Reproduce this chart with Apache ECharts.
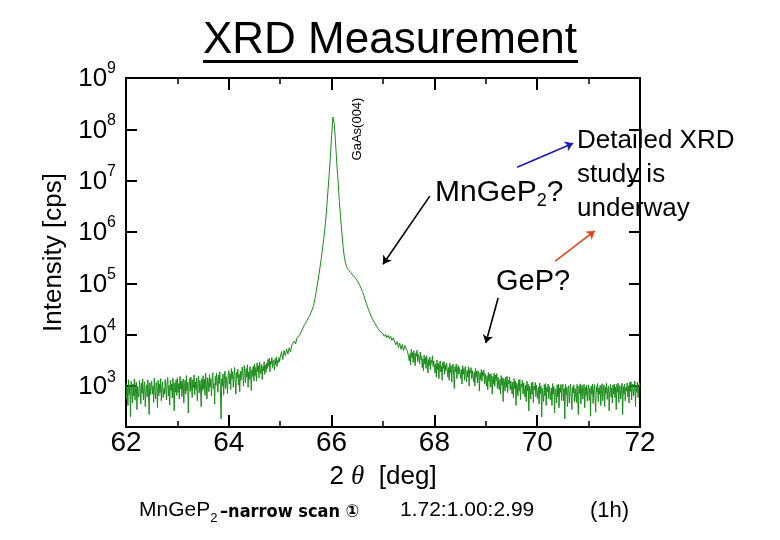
<!DOCTYPE html>
<html><head><meta charset="utf-8">
<script src="https://cdn.jsdelivr.net/npm/echarts@6/dist/echarts.min.js"></script>
<style>html,body{margin:0;padding:0;background:#fff}#c{width:780px;height:540px}</style>
</head><body><div id="c"></div>
<script>
// scan grids of the measurement (2θ in degrees)
const lowStart = 62, peakStart = 65, highStart = 67.5;
const fineStep = 0.0125, coarseStep = 0.025;
// intensity [cps], 62.0000 – 64.9875 (fine step)
const countsLow = [
  1150, 560, 940, 420, 1330, 690, 1020, 250, 1240, 780, 470, 1100, 640, 1380, 530, 900, 1200, 350, 980, 720,
  610, 1280, 870, 450, 1150, 720, 1390, 540, 960, 1210, 400, 830, 1060, 620, 1320, 760, 280, 1170, 680, 1000,
  1250, 700, 1010, 480, 1440, 820, 560, 1180, 930, 380, 1300, 650, 1090, 750, 1400, 520, 980, 1220, 600, 890,
  700, 1350, 880, 540, 1200, 1480, 640, 1030, 430, 1290, 820, 1100, 590, 1420, 950, 330, 1160, 760, 1330, 660,
  1450, 760, 1120, 560, 1550, 880, 1260, 620, 1050, 1380, 470, 980, 1300, 700, 1600, 820, 1180, 300, 1020, 1410,
  790, 1500, 1020, 600, 1340, 930, 1650, 680, 1210, 860, 1450, 520, 1110, 1580, 740, 1290, 960, 400, 1390, 830,
  1600, 870, 1350, 660, 1780, 1040, 560, 1460, 1210, 780, 1690, 950, 1400, 640, 1250, 1830, 900, 1120, 450, 1550,
  1040, 1780, 1260, 760, 1650, 1120, 1900, 820, 230, 1400, 1000, 1720, 680, 1330, 1960, 900, 1530, 1150, 720, 1690,
  2000, 1100, 1750, 860, 2200, 1380, 1900, 950, 1620, 2300, 1200, 700, 1850, 1450, 2150, 1050, 1700, 780, 1950, 1300,
  1400, 2350, 1600, 1000, 2500, 1800, 1150, 2200, 1500, 2600, 950, 1900, 1350, 2400, 1700, 820, 2100, 1550, 2450, 1250,
  2700, 1600, 2300, 1250, 2850, 1900, 2500, 1450, 2950, 2100, 1750, 2650, 1350, 2400, 2000, 3000, 1700, 2550, 1900, 2800,
  2200, 3300, 2500, 3500, 1900, 3050, 2700, 3600, 2300, 3200, 2900, 2050, 3400, 2650, 3700, 2400, 3150, 2850, 3600, 3000
];
// 65.000 – 67.475 (coarse step): GaAs(004) peak and its shoulder
const countsPeak = [
  3600, 4700, 3300, 4900, 3900, 5300, 4200, 5600, 4600, 6300,
  6000, 7600, 6600, 8600, 7900, 9800, 9900, 12300, 13400, 15900,
  17400, 19300, 21400, 24000, 26900, 31600, 37200, 50100, 69200, 97700,
  141000, 209000, 316000, 490000, 776000, 1320000, 2510000, 5620000, 12000000, 28200000,
  75900000, 174000000, 132000000, 60300000, 22400000, 10000000, 4170000, 1910000, 933000, 501000,
  316000, 240000, 204000, 186000, 174000, 162000, 151000, 141000, 132000, 123000,
  112000, 102000, 91200, 79400, 69200, 58900, 49000, 40700, 34700, 29500,
  25700, 22400, 20000, 17800, 16200, 14800, 13200, 12900, 11400, 11300,
  10500, 9300, 10200, 8800, 9700, 8400, 9300, 7800, 8700, 7300,
  6400, 7400, 5600, 6900, 5200, 6500, 4900, 6200, 5300, 4800
];
// 67.5000 – 72.0000 (fine step)
const countsHigh = [
  4800, 3100, 4300, 2600, 5200, 3600, 4500, 2900, 4900, 3400, 2500, 4400, 3800, 5000, 3000, 4100, 3500, 2700, 4600, 3300,
  3800, 2300, 3400, 2000, 4000, 2700, 3600, 2200, 3900, 2900, 1800, 3300, 2500, 3700, 2100, 3200, 2800, 3900, 2400, 3100,
  3000, 1800, 2700, 1500, 3200, 2100, 2800, 1400, 2500, 3100, 1900, 2400, 1300, 2900, 2200, 3000, 1700, 2600, 2000, 2800,
  2600, 1500, 2300, 1300, 2800, 1800, 2500, 1200, 2200, 2700, 1600, 900, 2400, 1900, 2700, 1400, 2100, 2500, 1700, 2300,
  2300, 1400, 2100, 1100, 2500, 1700, 2200, 1300, 2400, 1900, 1200, 2000, 1500, 2400, 1000, 2100, 1800, 2300, 1400, 2000,
  2100, 1200, 1900, 1000, 2200, 1500, 1950, 1150, 2000, 1700, 800, 1800, 1350, 2100, 1250, 1900, 1550, 2050, 1100, 1750,
  1800, 1000, 1600, 850, 1850, 1250, 1700, 950, 1750, 1400, 700, 1550, 1100, 1800, 1000, 1650, 1300, 1750, 900, 1500,
  1550, 850, 1350, 700, 1600, 1050, 1450, 500, 1400, 1150, 800, 1500, 950, 1550, 750, 1300, 1100, 1500, 850, 1250,
  1350, 700, 1200, 600, 1400, 900, 1250, 420, 1150, 1000, 650, 1300, 800, 1350, 550, 1100, 950, 1300, 700, 1150,
  1200, 620, 1050, 500, 1250, 800, 1100, 330, 1000, 900, 560, 1150, 700, 1200, 480, 1000, 850, 1180, 620, 1050,
  1100, 560, 950, 450, 1150, 720, 1000, 250, 900, 830, 500, 1080, 650, 1120, 420, 950, 780, 1100, 560, 980,
  1050, 540, 920, 420, 1120, 700, 980, 300, 880, 800, 470, 1050, 620, 1100, 380, 930, 760, 1080, 520, 960,
  1080, 520, 900, 230, 1100, 680, 960, 400, 860, 1020, 470, 780, 1090, 600, 350, 940, 740, 1060, 500, 900,
  960, 480, 1080, 620, 280, 1000, 720, 1110, 450, 880, 1050, 560, 820, 1090, 380, 940, 660, 1040, 510, 870,
  1060, 530, 900, 260, 1000, 700, 1100, 460, 850, 1070, 580, 310, 980, 760, 1120, 500, 920, 690, 1040, 420,
  900, 1110, 520, 820, 1060, 400, 960, 720, 1130, 550, 880, 1000, 330, 780, 1080, 610, 930, 470, 1050, 700,
  1100, 600, 950, 350, 1080, 760, 1150, 480, 900, 1020, 560, 820, 1130, 280, 980, 700, 1090, 520, 940, 800,
  1150, 620, 1000, 470, 1180, 790, 1220, 540, 950, 1100, 650, 880, 1250, 400, 1040, 760, 1200, 600, 1000, 1150,
  950
];
// axis ranges
const xRange = [62, 72], xStep = 2;
const yRange = [160, 1e9];
// annotation arrows in data coordinates [2θ, cps]
const arrowFrom = [[67.91, 5.0e6], [69.24, 5.2e4], [69.61, 1.83e7], [70.35, 2.72e5]];
const arrowTo   = [[67.0, 2.37e5], [69.0, 6.9e3], [70.70, 5.37e7], [71.12, 1.05e6]];
const arrowColors = ['#000000', '#000000', '#1a1ab8', '#e2441e'];

const FF = "'Liberation Sans', Arial, sans-serif";
const toPairs = (arr, start, step) => arr.map((c, i) => [+(start + i * step).toFixed(4), c]);
const seriesData = toPairs(countsLow, lowStart, fineStep)
  .concat(toPairs(countsPeak, peakStart, coarseStep), toPairs(countsHigh, highStart, fineStep));

const axisLineStyle = {color: '#000', width: 2};
const chart = echarts.init(document.getElementById('c'));
const xBase = {
  type: 'value', min: xRange[0], max: xRange[1], interval: xStep,
  axisLine: {onZero: false, lineStyle: axisLineStyle},
  axisTick: {inside: true, length: 12, lineStyle: {color: '#000', width: 2}},
  minorTick: {show: true, splitNumber: 2, length: 6, lineStyle: {color: '#000', width: 1.5}},
  splitLine: {show: false}, minorSplitLine: {show: false}
};
const yBase = {
  type: 'log', logBase: 10, min: yRange[0], max: yRange[1],
  axisLine: {onZero: false, lineStyle: axisLineStyle},
  axisTick: {inside: true, length: 11, lineStyle: {color: '#000', width: 2}},
  minorTick: {show: false},
  splitLine: {show: false}
};
const option = {
  animation: false,
  backgroundColor: '#fff',
  grid: {left: 126, right: 140, top: 78, bottom: 113},
  xAxis: [
    Object.assign({}, xBase, {
      position: 'bottom',
      axisLabel: {fontSize: 28, color: '#000', margin: 2, fontFamily: FF},
      name: '{n|2 }{t|θ}{n|  [deg]}', nameLocation: 'middle', nameGap: 36,
      nameTextStyle: {color: '#000', rich: {
        n: {fontSize: 26, fontFamily: FF, color: '#000'},
        t: {fontSize: 27, fontFamily: "'Liberation Serif', serif", fontStyle: 'italic', color: '#000'}
      }}
    }),
    Object.assign({}, xBase, {position: 'top', axisLabel: {show: false}})
  ],
  yAxis: [
    Object.assign({}, yBase, {
      position: 'left',
      axisLabel: {
        margin: 10, color: '#000',
        formatter: function (v) {
          const e = Math.log10(v), r = Math.round(e);
          if (Math.abs(e - r) > 1e-6) return '';
          return '{b|10}{s|' + r + '}';
        },
        rich: {
          b: {fontSize: 26, fontFamily: FF, color: '#000', padding: [2, 0, 0, 0]},
          s: {fontSize: 16, fontFamily: FF, color: '#000', padding: [0, 0, 18, 0]}
        }
      },
      name: 'Intensity [cps]', nameLocation: 'middle', nameGap: 50,
      nameTextStyle: {fontSize: 26, fontFamily: FF, color: '#000'}
    }),
    Object.assign({}, yBase, {position: 'right', axisLabel: {show: false}})
  ],
  series: [{
    type: 'line', xAxisIndex: 0, yAxisIndex: 0,
    data: seriesData, showSymbol: false, symbol: 'none',
    lineStyle: {color: '#1a8c1a', width: 1}, itemStyle: {color: '#1a8c1a'},
    emphasis: {disabled: true},
    markLine: {
      silent: true, symbol: ['none', 'arrow'], symbolSize: 8,
      label: {show: false}, emphasis: {disabled: true}, animation: false,
      data: arrowFrom.map((f, i) => [
        {coord: f, lineStyle: {color: arrowColors[i], width: 1.6, type: 'solid'}, itemStyle: {color: arrowColors[i]}},
        {coord: arrowTo[i]}
      ])
    }
  }],
  graphic: [
    {type: 'text', x: 390, y: 41, style: {text: 'XRD Measurement', fontSize: 44, fontFamily: FF, fill: '#000',
      align: 'center', verticalAlign: 'middle', textAlign: 'center', textVerticalAlign: 'middle'}},
    {type: 'rect', shape: {x: 203, y: 60, width: 375, height: 3}, style: {fill: '#000'}},
    {type: 'text', x: 357.5, y: 129, rotation: Math.PI / 2, style: {text: 'GaAs(004)', fontSize: 13, fontFamily: FF, fill: '#000',
      align: 'center', verticalAlign: 'middle', textAlign: 'center', textVerticalAlign: 'middle'}},
    {type: 'text', x: 435, y: 192.5, style: {text: '{a|MnGeP}{s|2}{a|?}', fill: '#000',
      align: 'left', verticalAlign: 'middle', textAlign: 'left', textVerticalAlign: 'middle',
      rich: {a: {fontSize: 30, fontFamily: FF, lineHeight: 36}, s: {fontSize: 18, fontFamily: FF, lineHeight: 18, verticalAlign: 'bottom'}}}},
    {type: 'text', x: 577, y: 124, z: -1, style: {text: 'Detailed XRD\nstudy is\nunderway', fontSize: 26, fontFamily: FF, lineHeight: 34, fill: '#000',
      align: 'left', verticalAlign: 'top', textAlign: 'left', textVerticalAlign: 'top'}},
    {type: 'text', x: 496, y: 282, style: {text: 'GeP?', fontSize: 29, fontFamily: FF, fill: '#000',
      align: 'left', verticalAlign: 'middle', textAlign: 'left', textVerticalAlign: 'middle'}},
    {type: 'text', x: 139, y: 510.5, style: {text: '{a|MnGeP}{s|2}', fill: '#000',
      align: 'left', verticalAlign: 'middle', textAlign: 'left', textVerticalAlign: 'middle',
      rich: {a: {fontSize: 21, fontFamily: FF, lineHeight: 28}, s: {fontSize: 13, fontFamily: FF, lineHeight: 12, verticalAlign: 'bottom'}}}},
    {type: 'text', x: 220, y: 512, style: {text: '–narrow scan ①', fontSize: 18, fontWeight: 'bold',
      fontFamily: "'Liberation Sans Narrow', 'DejaVu Sans Condensed', 'Arial Narrow', 'Liberation Sans', sans-serif", fill: '#000',
      align: 'left', verticalAlign: 'middle', textAlign: 'left', textVerticalAlign: 'middle'}},
    {type: 'text', x: 400, y: 510.5, style: {text: '1.72:1.00:2.99', fontSize: 21, fontFamily: FF, fill: '#000',
      align: 'left', verticalAlign: 'middle', textAlign: 'left', textVerticalAlign: 'middle'}},
    {type: 'text', x: 590, y: 510.5, style: {text: '(1h)', fontSize: 22, fontFamily: FF, fill: '#000',
      align: 'left', verticalAlign: 'middle', textAlign: 'left', textVerticalAlign: 'middle'}}
  ]
};
chart.setOption(option);
</script>
</body></html>
